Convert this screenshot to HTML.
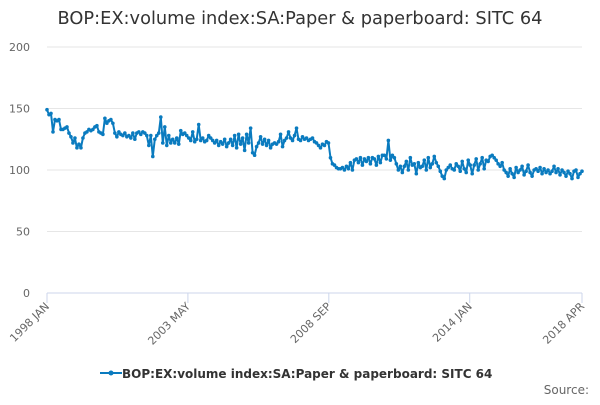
<!DOCTYPE html>
<html><head><meta charset="utf-8"><style>
body{margin:0;background:#fff;font-family:"Liberation Sans",sans-serif;}
svg text{font-family:"DejaVu Sans","Liberation Sans",sans-serif;}
</style></head><body>
<svg id="chart" width="600" height="400">
<text x="300" y="24" text-anchor="middle" font-size="17.8" fill="#333">BOP:EX:volume index:SA:Paper &amp; paperboard: SITC 64</text>
<g id="grid"></g><g id="axes"></g><g id="series"></g>
<g>
<line x1="100" y1="373" x2="122" y2="373" stroke="#0a7bbf" stroke-width="2"/>
<circle cx="111" cy="373" r="2.5" fill="#0a7bbf"/>
<text x="122" y="378" font-size="12" font-weight="bold" fill="#333">BOP:EX:volume index:SA:Paper &amp; paperboard: SITC 64</text>
</g>
<text x="589" y="394" text-anchor="end" font-size="12" fill="#666">Source:</text>
</svg>
<script>
const values = [149,145,146,131,141,140,141,133,133,134,135,130,127,122,126,118,121,118,126,130,131,133,132,133,135,136,131,130,129,142,138,140,141,138,130,127,131,129,128,130,127,128,126,130,125,130,131,129,131,130,128,120,128,111,125,128,130,143,122,135,120,128,122,125,122,126,121,132,129,130,128,126,124,131,123,125,137,124,126,123,124,128,126,124,122,124,120,123,121,125,119,122,125,120,128,118,129,121,126,116,129,122,134,114,112,119,122,127,121,125,120,124,118,121,122,121,123,129,119,124,126,131,126,124,128,134,125,124,127,125,126,124,125,126,123,122,120,118,121,120,123,122,110,105,104,102,101,101,102,100,103,101,106,100,108,109,106,110,104,109,107,110,105,110,109,104,111,106,112,112,109,124,108,112,110,105,100,103,98,103,107,100,110,104,105,97,106,102,103,108,100,110,102,105,111,106,103,99,95,93,100,102,104,101,100,105,103,99,107,101,98,108,104,97,104,109,100,105,110,101,108,107,111,112,110,108,105,103,106,100,98,95,101,97,94,102,98,100,103,96,99,104,98,95,100,101,99,102,97,101,98,100,97,99,103,98,101,96,100,98,95,99,97,93,99,100,94,97,99];
const yTicks = [0,50,100,150,200];
const xTickLabels = ["1998 JAN","2003 MAY","2008 SEP","2014 JAN","2018 APR"];
const xTickFrac = [0, 64/243, 128/243, 192/243, 1];
const X0=47,X1=582,Y0=293,Y1=47;
const ns="http://www.w3.org/2000/svg";
function xs(i){return X0+i*(X1-X0)/(values.length-1);}
function xf(f){return X0+f*(X1-X0);}
function ys(v){return Y0-(v/200)*(Y0-Y1);}
function mk(t,a,p){const e=document.createElementNS(ns,t);for(const k in a)e.setAttribute(k,a[k]);p.appendChild(e);return e;}
const grid=document.getElementById('grid'),axes=document.getElementById('axes'),ser=document.getElementById('series');
yTicks.forEach(v=>{
 const l=mk('line',{x1:X0,x2:X1,y1:ys(v),y2:ys(v),stroke:v===0?'#ccd6eb':'#e6e6e6'},grid);
 
 
 const t=mk('text',{x:30,y:ys(v)+4,'text-anchor':'end','font-size':11,fill:'#666'},axes);
 t.textContent=v;
 
 
});
xTickLabels.forEach((s,i)=>{
 const x=xf(xTickFrac[i]);
 const tk=mk('line',{x1:x,x2:x,y1:Y0,y2:Y0+10,stroke:'#ccd6eb'},axes);
 
 
 const t=mk('text',{x:x+3,y:Y0+14,'text-anchor':'end','font-size':11,fill:'#666',transform:`rotate(-45 ${x+3} ${Y0+14})`},axes);
 t.textContent=s;
 
 
});
const d=values.map((v,i)=>(i?'L':'M')+xs(i).toFixed(1)+' '+ys(v).toFixed(1)).join(' ');
const p=mk('path',{d:d,fill:'none',stroke:'#0a7bbf','stroke-width':2,'stroke-linejoin':'round'},ser);


values.forEach((v,i)=>{
 const c=mk('circle',{cx:xs(i),cy:ys(v),r:1.8,fill:'#0a7bbf'},ser);
 
 
});
</script>
</body></html>
